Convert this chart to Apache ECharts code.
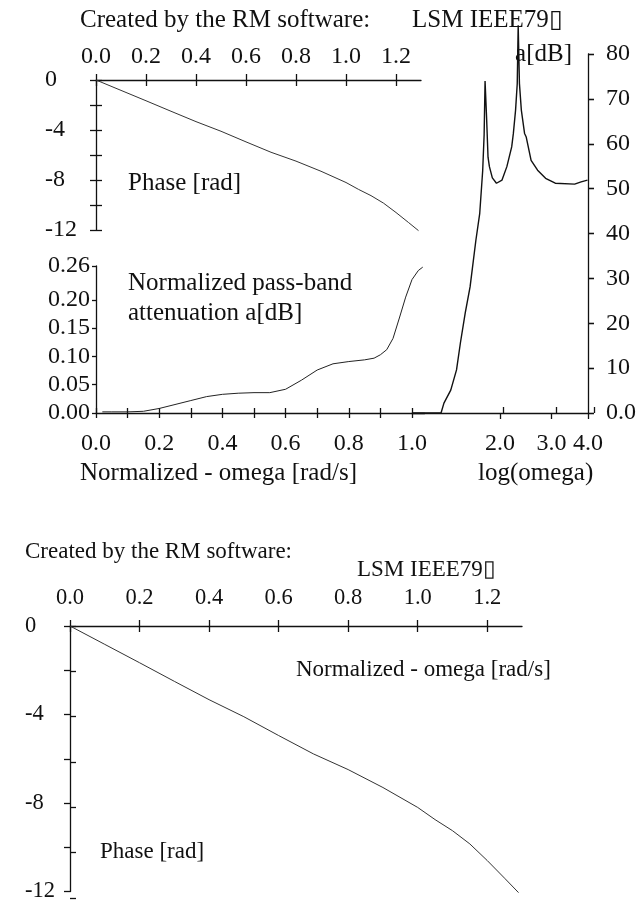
<!DOCTYPE html>
<html><head><meta charset="utf-8">
<script src="https://cdn.jsdelivr.net/npm/echarts@6/dist/echarts.min.js"></script>
<style>html,body{margin:0;padding:0;background:#fff}#c{width:639px;height:903px}</style>
</head><body><div id="c"></div>
<script>
// ---------- data ----------
const phaseOmega = [0, 0.1, 0.2, 0.3, 0.4, 0.5, 0.6, 0.7, 0.8, 0.9, 1.0, 1.05, 1.1, 1.15, 1.2, 1.25, 1.29];
const phaseRad   = [0, -0.83, -1.66, -2.5, -3.33, -4.1, -4.95, -5.78, -6.49, -7.3, -8.2, -8.75, -9.25, -9.85, -10.6, -11.4, -12.05];

const passOmega = [0.02, 0.05, 0.1, 0.15, 0.2, 0.25, 0.3, 0.35, 0.4, 0.45, 0.5, 0.55, 0.6, 0.65, 0.7, 0.75, 0.8, 0.85, 0.88, 0.9, 0.92, 0.94, 0.96, 0.98, 1.0, 1.02, 1.034];
const passAtt   = [0.002, 0.002, 0.002, 0.003, 0.008, 0.015, 0.022, 0.029, 0.033, 0.035, 0.036, 0.036, 0.042, 0.058, 0.076, 0.087, 0.091, 0.094, 0.097, 0.103, 0.112, 0.132, 0.168, 0.205, 0.236, 0.252, 0.258];

const stopOmega = [1.0, 1.15, 1.257, 1.286, 1.357, 1.42, 1.464, 1.521, 1.58, 1.654, 1.705, 1.745, 1.765, 1.778, 1.799, 1.82, 1.84, 1.883, 1.945, 2.032, 2.111, 2.193, 2.222, 2.261, 2.291, 2.308, 2.331, 2.366, 2.427, 2.459, 2.555, 2.689, 2.864, 3.091, 3.6, 3.789, 3.984];
const stopAtt   = [0, 0, 0, 2.2, 5.1, 9.6, 15.6, 22.3, 28.1, 38.5, 44.5, 54, 62, 74, 66, 57, 54.9, 52.4, 51.2, 51.9, 54.9, 59.3, 62.3, 67.5, 73.4, 86.4, 73.4, 67.5, 62.3, 61.5, 56.3, 54.1, 52.3, 51.2, 51, 51.5, 51.9];

const phaseXTicks   = [0, 0.2, 0.4, 0.6, 0.8, 1.0, 1.2];
const phaseYLabels  = [0, -4, -8, -12];
const passXTicks    = [0, 0.1, 0.2, 0.3, 0.4, 0.5, 0.6, 0.7, 0.8, 0.9, 1.0];
const passXLabels   = [0, 0.2, 0.4, 0.6, 0.8, 1.0];
const passYLabels   = [0, 0.05, 0.10, 0.15, 0.20, 0.26];
const logXTicks     = [2, 3, 4];

// ---------- styling ----------
const FONT = "'Liberation Serif', 'Times New Roman', serif";
const INK = '#111';

function zip(a, b) { return a.map((v, i) => [v, b[i]]); }

function makeAxis(o) {
  const tick = { show: true, inside: !!o.inside, length: o.tickLen == null ? 6 : o.tickLen,
                 lineStyle: { color: INK, width: 1.3 } };
  if (o.ticks) tick.customValues = o.ticks;
  const label = { show: !o.ghost, margin: o.margin || 8, color: INK, fontFamily: FONT, fontSize: o.fs || 24 };
  if (o.labels) label.customValues = o.labels;
  if (o.fmt) label.formatter = o.fmt;
  if (o.align) label.align = o.align;
  const ax = {
    type: o.type || 'value', gridIndex: o.grid, position: o.pos, min: o.min, max: o.max,
    splitLine: { show: false },
    axisLine: { show: !o.ghost && o.line !== false, onZero: false, lineStyle: { color: INK, width: 1.3 } },
    axisTick: tick, axisLabel: label
  };
  if (o.interval) ax.interval = o.interval;
  if (o.type === 'log') ax.logBase = 10;
  if (o.hideTick) ax.axisTick = { show: false };
  return ax;
}

const f1 = v => Number(v).toFixed(1);
const f2 = v => Number(v).toFixed(2);
const fInt = v => String(Math.round(v));

// grid geometry (pass-band x axis runs a little past 1.0 so the curve end is inside)
const passMax = 1.04;
const gA = { left: 96, top: 80, width: 325, height: 150 };
const gB = { left: 96, top: 266, width: 316 * passMax, height: 147 };
const gC = { left: 412, top: 54, width: 182, height: 359 };
const gD = { left: 70, top: 626, width: 452, height: 272 };

const grids = [gA, gA, gB, gB, gC, gC, gD, gD].map(g => Object.assign({ containLabel: false }, g));

const xAxes = [
  makeAxis({ grid: 0, pos: 'top', min: 0, max: 1.3, ticks: phaseXTicks, labels: phaseXTicks, fmt: f1, margin: 11, fs: 24 }),
  makeAxis({ grid: 1, pos: 'top', min: 0, max: 1.3, ticks: phaseXTicks, ghost: true, inside: true }),
  makeAxis({ grid: 2, pos: 'bottom', min: 0, max: passMax, ticks: passXTicks, labels: passXLabels, fmt: f1, margin: 19, fs: 24, tickLen: 5 }),
  makeAxis({ grid: 3, pos: 'bottom', min: 0, max: passMax, ticks: passXTicks, ghost: true, inside: true, tickLen: 5 }),
  makeAxis({ grid: 4, type: 'log', pos: 'bottom', min: 1, max: 4, ticks: logXTicks, labels: logXTicks, fmt: f1, margin: 19, fs: 24, tickLen: 6 }),
  makeAxis({ grid: 5, type: 'log', pos: 'bottom', min: 1, max: 4, ticks: logXTicks, ghost: true, inside: true, tickLen: 6 }),
  makeAxis({ grid: 6, pos: 'top', min: 0, max: 1.3, ticks: phaseXTicks, labels: phaseXTicks, fmt: f1, margin: 16, fs: 22.5 }),
  makeAxis({ grid: 7, pos: 'top', min: 0, max: 1.3, ticks: phaseXTicks, ghost: true, inside: true })
];

const yAxes = [
  makeAxis({ grid: 0, pos: 'left', min: -12, max: 0, interval: 2, labels: phaseYLabels, fmt: fInt, margin: 51, align: 'left', fs: 24 }),
  makeAxis({ grid: 1, pos: 'left', min: -12, max: 0, interval: 2, ghost: true, inside: true }),
  makeAxis({ grid: 2, pos: 'left', min: 0, max: 0.26, ticks: passYLabels, labels: passYLabels, fmt: f2, margin: 6, fs: 24, tickLen: 4 }),
  makeAxis({ grid: 3, pos: 'left', min: 0, max: 0.26, ghost: true, hideTick: true }),
  makeAxis({ grid: 4, pos: 'right', min: 0, max: 80, interval: 10, fmt: v => (v === 0 ? '0.0' : String(v)), margin: 18, fs: 24 }),
  makeAxis({ grid: 5, pos: 'right', min: 0, max: 80, interval: 10, ghost: true, inside: true }),
  makeAxis({ grid: 6, pos: 'left', min: -12, max: 0, interval: 2, labels: phaseYLabels, fmt: fInt, margin: 45, align: 'left', fs: 22.5 }),
  makeAxis({ grid: 7, pos: 'left', min: -12, max: 0, interval: 2, ghost: true, inside: true })
];

function lineSeries(x, y, data, color, width) {
  return { type: 'line', xAxisIndex: x, yAxisIndex: y, data: data, showSymbol: false, symbol: 'none',
           clip: false, smooth: false, lineStyle: { color: color, width: width }, silent: true };
}

const series = [
  lineSeries(0, 0, zip(phaseOmega, phaseRad), '#333', 1),
  lineSeries(2, 2, zip(passOmega, passAtt), '#222', 1),
  lineSeries(4, 4, zip(stopOmega, stopAtt), '#111', 1.4),
  lineSeries(6, 6, zip(phaseOmega, phaseRad), '#333', 1)
];

function txt(s, x, y, fs, align) {
  return { type: 'text', x: x, y: y, silent: true,
           style: { text: s, fill: INK, font: fs + 'px ' + FONT, textAlign: align || 'left', textVerticalAlign: 'middle' } };
}

const graphics = [
  txt('Created by the RM software:', 80, 20, 25),
  txt('LSM IEEE79\u25AF', 412, 20, 25),
  txt('a[dB]', 572, 54, 25, 'right'),
  txt('Phase [rad]', 128, 183, 25),
  txt('Normalized pass-band', 128, 283, 25),
  txt('attenuation a[dB]', 128, 313, 25),
  txt('Normalized - omega [rad/s]', 80, 473, 25),
  txt('log(omega)', 478, 473, 25),
  txt('Created by the RM software:', 25, 552, 23),
  txt('LSM IEEE79\u25AF', 357, 570, 23),
  txt('Normalized - omega [rad/s]', 296, 670, 23),
  txt('Phase [rad]', 100, 852, 23)
];

const chart = echarts.init(document.getElementById('c'), null, { renderer: 'canvas' });
chart.setOption({
  animation: false,
  backgroundColor: '#ffffff',
  grid: grids,
  xAxis: xAxes,
  yAxis: yAxes,
  series: series,
  graphic: graphics
});
</script>
</body></html>
